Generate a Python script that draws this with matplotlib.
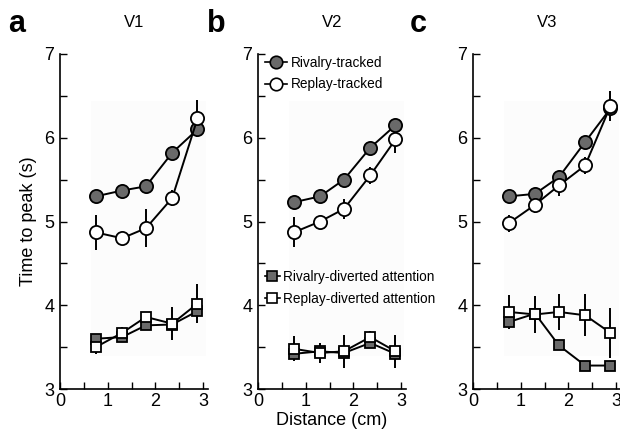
import matplotlib
matplotlib.use("Agg")
import matplotlib.pyplot as plt
from matplotlib.lines import Line2D

plt.rcParams['font.family'] = ['Liberation Sans', 'DejaVu Sans']

distance = [0.75, 1.3, 1.8, 2.35, 2.88]
areas = ["V1", "V2", "V3"]
panel_letters = ["a", "b", "c"]

riv_tracked = [
    [5.30, 5.37, 5.42, 5.82, 6.10],
    [5.23, 5.30, 5.50, 5.88, 6.15],
    [5.30, 5.33, 5.53, 5.95, 6.35],
]
riv_tracked_err = [
    [0.03, 0.03, 0.03, 0.03, 0.03],
    [0.03, 0.03, 0.03, 0.03, 0.03],
    [0.03, 0.05, 0.05, 0.05, 0.05],
]
rep_tracked = [
    [4.87, 4.80, 4.92, 5.28, 6.23],
    [4.87, 5.00, 5.15, 5.55, 5.98],
    [4.98, 5.20, 5.43, 5.67, 6.38],
]
rep_tracked_err = [
    [0.21, 0.06, 0.23, 0.10, 0.22],
    [0.18, 0.05, 0.12, 0.10, 0.16],
    [0.10, 0.10, 0.12, 0.10, 0.18],
]
riv_div = [
    [3.60, 3.62, 3.76, 3.77, 3.93],
    [3.42, 3.45, 3.43, 3.55, 3.42],
    [3.80, 3.90, 3.52, 3.28, 3.28],
]
riv_div_err = [
    [0.04, 0.04, 0.04, 0.04, 0.10],
    [0.05, 0.05, 0.05, 0.05, 0.05],
    [0.05, 0.05, 0.04, 0.04, 0.04],
]
rep_div = [
    [3.50, 3.67, 3.86, 3.78, 4.02],
    [3.48, 3.43, 3.45, 3.62, 3.45],
    [3.92, 3.89, 3.92, 3.88, 3.67],
]
rep_div_err = [
    [0.08, 0.07, 0.05, 0.20, 0.23],
    [0.15, 0.12, 0.20, 0.07, 0.20],
    [0.20, 0.22, 0.21, 0.25, 0.30],
]

GRAY = '#6a6a6a'
fig = plt.figure(figsize=(6.2, 4.3), dpi=100)
lefts = [60/620, 258/620, 473/620]
letter_x = [8/620, 207/620, 410/620]
axw = 148/620
bottom = 41/430
axh = 335/430

for i in range(3):
    ax = fig.add_axes([lefts[i], bottom, axw, axh])
    ax.set_xlim(0, 3.1)
    ax.set_ylim(3, 7)
    ax.axvspan(0.65, 3.05, ymin=0.1, ymax=0.86, color='#fcfcfc', zorder=0, lw=0)
    series = [
        (riv_tracked[i], riv_tracked_err[i], 'o', GRAY, 9.5),
        (rep_tracked[i], rep_tracked_err[i], 'o', 'white', 9.5),
        (riv_div[i], riv_div_err[i], 's', GRAY, 7),
        (rep_div[i], rep_div_err[i], 's', 'white', 7),
    ]
    for vals, err, m, fc, ms in series:
        ax.errorbar(distance, vals, yerr=err, fmt='none', ecolor='black',
                    elinewidth=1.4, capsize=0, zorder=2)
        ax.plot(distance, vals, color='black', lw=1.4, marker=m, ms=ms,
                mfc=fc, mec='black', mew=1.3, zorder=3)
    for s in ['top', 'right']:
        ax.spines[s].set_visible(False)
    for s in ['left', 'bottom']:
        ax.spines[s].set_linewidth(1.2)
    ax.set_xticks([0, 1, 2, 3])
    ax.set_xticks([0.5, 1.5, 2.5], minor=True)
    ax.set_yticks([3, 4, 5, 6, 7])
    ax.set_yticks([3.5, 4.5, 5.5, 6.5], minor=True)
    ax.tick_params(which='both', direction='in', length=5, width=1.0,
                   labelsize=13, colors='black')
    ax.tick_params(axis='x', pad=3)
    ax.tick_params(axis='y', pad=4)
    ax.text(0.5, 1.095, areas[i], transform=ax.transAxes, ha='center',
            va='center', fontsize=12)
    fig.text(letter_x[i], 0.945, panel_letters[i], fontsize=22,
             fontweight='bold', ha='left', va='center')
    if i == 0:
        ax.set_ylabel('Time to peak (s)', fontsize=13, labelpad=5)
    if i == 1:
        ax.set_xlabel('Distance (cm)', fontsize=13, labelpad=1)
        h1 = [Line2D([], [], color='black', lw=1.2, marker='o', ms=9,
                     mfc=GRAY, mec='black', mew=1.2),
              Line2D([], [], color='black', lw=1.2, marker='o', ms=9,
                     mfc='white', mec='black', mew=1.2)]
        leg1 = ax.legend(h1, ['Rivalry-tracked', 'Replay-tracked'],
                         loc='upper left', bbox_to_anchor=(0.0, 1.015),
                         frameon=False, fontsize=9.8, handlelength=1.6,
                         handletextpad=0.3, labelspacing=0.55,
                         borderaxespad=0.1)
        ax.add_artist(leg1)
        h2 = [Line2D([], [], color='black', lw=1.2, marker='s', ms=6.5,
                     mfc=GRAY, mec='black', mew=1.2),
              Line2D([], [], color='black', lw=1.2, marker='s', ms=6.5,
                     mfc='white', mec='black', mew=1.2)]
        ax.legend(h2, ['Rivalry-diverted attention', 'Replay-diverted attention'],
                  loc='upper left', bbox_to_anchor=(0.0, 0.375),
                  frameon=False, fontsize=9.8, handlelength=1.1,
                  handletextpad=0.25, labelspacing=0.55, borderaxespad=0.1)

fig.savefig('out.png', dpi=100)
